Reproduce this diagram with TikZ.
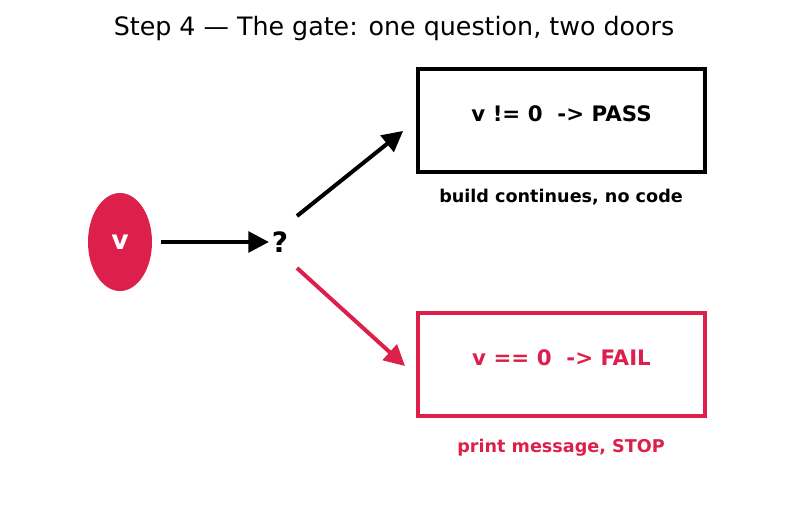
\documentclass[tikz,border=0pt]{standalone}
\usepackage{fontspec}
\setmainfont{DejaVu Sans}
\usetikzlibrary{arrows.meta,shapes.geometric}
\definecolor{gatered}{HTML}{DC1F4B}
\begin{document}
\begin{tikzpicture}[x=0.75pt,y=-0.75pt,
    door/.style={draw,line width=3pt,minimum width=215pt,minimum height=77pt,inner sep=0pt,text height=11pt,text depth=9.2pt,font=\bfseries\fontsize{16}{19}\selectfont},
    note/.style={font=\bfseries\fontsize{13.2}{16}\selectfont},
    arr/.style={line width=3pt,-{Triangle[length=15.5pt,width=15.5pt]}}]
      \useasboundingbox (0,0) rectangle (787,512);
      \draw
        (394,28.5) node (title){\fontsize{19}{23}\selectfont Step 4 --- The gate: one question, two doors}
        (120,242) node[ellipse,fill=gatered,draw=none,minimum width=48pt,minimum height=73.5pt,inner sep=0pt,text=white,font=\bfseries\fontsize{20}{24}\selectfont] (v){v}
        (280,242) node[font=\bfseries\fontsize{21}{25}\selectfont,inner sep=2pt] (q){?}
        (561.5,120.5) node[door] (pass){v != 0 \ -> PASS}
        (561,197.5) node[note] (passnote){build continues, no code}
        (561.5,364.5) node[door,draw=gatered,text=gatered] (fail){v == 0 \ -> FAIL}
        (561,447.5) node[note,text=gatered] (failnote){print message, STOP};
      \coordinate (qup) at (297,216);
      \coordinate (qdown) at (297,268);
      \coordinate (failend) at (405,366);
      \begin{scope}[arr]
        \draw[shorten <=6.5pt,shorten >=0pt] (v) to (q);
        \draw[shorten >=12.5pt] (qup) to (pass.west);
        \draw[gatered] (qdown) to (failend);
      \end{scope}
    \end{tikzpicture}
\end{document}
